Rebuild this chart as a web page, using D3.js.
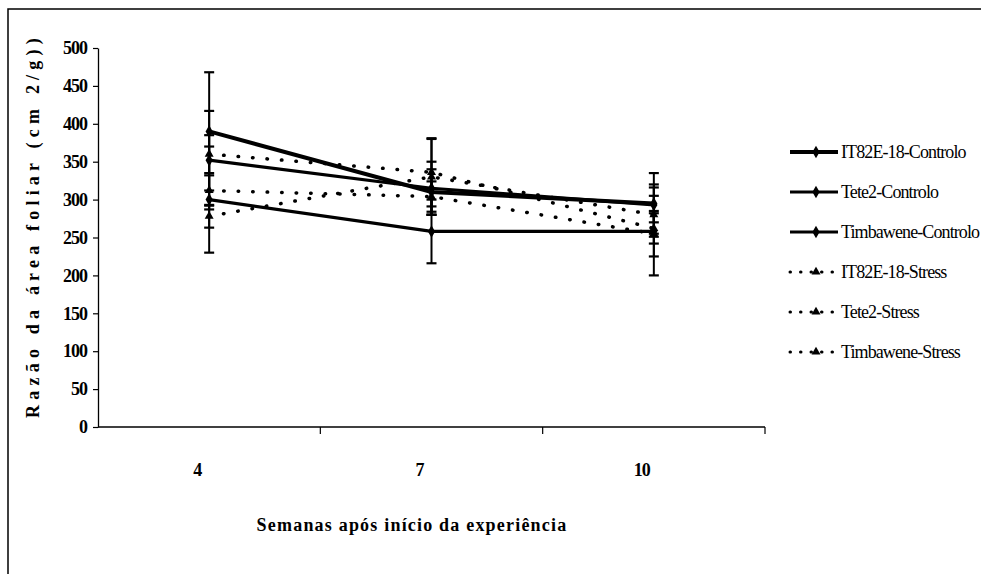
<!DOCTYPE html>
<html>
<head>
<meta charset="utf-8">
<script src="https://cdn.jsdelivr.net/npm/d3@7"></script>
<style>
  body { margin: 0; background: #fff; }
  svg { display: block; }
  text { font-family: "Liberation Serif", "Times New Roman", Times, "DejaVu Serif", serif; }
</style>
</head>
<body>
<svg id="chart" width="981" height="574"></svg>
<script>
const weeks = ['4', '7', '10'];
const seriesNames = ['IT82E-18-Controlo', 'Tete2-Controlo', 'Timbawene-Controlo',
                     'IT82E-18-Stress', 'Tete2-Stress', 'Timbawene-Stress'];
const it82eControlo = [390, 310, 295];
const tete2Controlo = [352, 315, 293];
const timbControlo = [300, 258, 258];
const it82eStress = [360, 336, 262];
const tete2Stress = [312, 304, 255];
const timbStress = [278, 330, 280];
const it82eControloErr = [78, 30, 25];
const tete2ControloErr = [65, 35, 42];
const timbControloErr = [70, 42, 58];
const it82eStressErr = [25, 45, 20];
const tete2StressErr = [20, 20, 30];
const timbStressErr = [15, 50, 25];
const yTicks = [0, 50, 100, 150, 200, 250, 300, 350, 400, 450, 500];

const series = [
  { name: seriesNames[0], values: it82eControlo, err: it82eControloErr, stress: false, width: 4 },
  { name: seriesNames[1], values: tete2Controlo, err: tete2ControloErr, stress: false, width: 3.2 },
  { name: seriesNames[2], values: timbControlo, err: timbControloErr, stress: false, width: 3.2 },
  { name: seriesNames[3], values: it82eStress, err: it82eStressErr, stress: true, width: 3.5 },
  { name: seriesNames[4], values: tete2Stress, err: tete2StressErr, stress: true, width: 3.5 },
  { name: seriesNames[5], values: timbStress, err: timbStressErr, stress: true, width: 3.5 }
];

const margin = { top: 48, left: 98, right: 216, bottom: 147 };
const width = 981, height = 574;

const svg = d3.select('#chart');

// outer frame
svg.append('path')
  .attr('d', `M8,${height + 2} L8,9 L${width + 2},9`)
  .attr('fill', 'none')
  .attr('stroke', '#000')
  .attr('stroke-width', 1.5);

const x = d3.scaleBand()
  .domain(weeks)
  .range([margin.left, width - margin.right]);

const y = d3.scaleLinear()
  .domain([0, 500])
  .range([height - margin.bottom, margin.top]);

// y axis
svg.append('g')
  .attr('transform', `translate(${margin.left}, 0)`)
  .call(d3.axisLeft(y).tickValues(yTicks).tickSize(5).tickSizeOuter(0))
  .call(g => g.select('.domain').attr('stroke-width', 1.3))
  .call(g => g.selectAll('.tick line').attr('stroke-width', 1.2))
  .selectAll('text')
  .attr('x', -11)
  .style('font-family', null)
  .style('font-size', '18px')
  .style('font-weight', 'bold')
  .style('letter-spacing', '-1px')
  .style('fill', '#000');

// x axis (ticks between categories)
const xAxis = svg.append('g')
  .attr('transform', `translate(0, ${y(0)})`);
xAxis.append('line')
  .attr('x1', margin.left).attr('x2', width - margin.right)
  .attr('stroke', '#000').attr('stroke-width', 1.3);
xAxis.selectAll('.sep')
  .data(weeks)
  .join('line')
  .attr('class', 'sep')
  .attr('x1', d => x(d) + x.bandwidth())
  .attr('x2', d => x(d) + x.bandwidth())
  .attr('y1', 0).attr('y2', 7)
  .attr('stroke', '#000').attr('stroke-width', 1.2);
xAxis.selectAll('text')
  .data(weeks)
  .join('text')
  .attr('x', d => x(d) + x.bandwidth() / 2 - 12)
  .attr('y', 49)
  .attr('text-anchor', 'middle')
  .style('font-size', '18px')
  .style('font-weight', 'bold')
  .style('letter-spacing', '-1px')
  .text(d => d);

// axis titles
svg.append('text')
  .attr('x', 412)
  .attr('y', 531)
  .attr('text-anchor', 'middle')
  .style('font-size', '18px')
  .style('font-weight', 'bold')
  .style('letter-spacing', '1.2px')
  .text('Semanas após  início da experiência');

svg.append('g')
  .attr('transform', `translate(39, ${(y(0) + y(500)) / 2 - 12}) rotate(-90)`)
  .append('text')
  .attr('text-anchor', 'middle')
  .style('font-size', '18px')
  .style('font-weight', 'bold')
  .style('letter-spacing', '5.2px')
  .text('Razão da área foliar (cm 2/g))');

const cx = d => x(d) + x.bandwidth() / 2;

// error bars
series.forEach(s => {
  const g = svg.append('g');
  weeks.forEach((w, i) => {
    const top = y(s.values[i] + s.err[i]);
    const bot = y(s.values[i] - s.err[i]);
    g.append('line')
      .attr('x1', cx(w)).attr('x2', cx(w))
      .attr('y1', top).attr('y2', bot)
      .attr('stroke', '#000').attr('stroke-width', 2);
    [top, bot].forEach(v => {
      g.append('line')
        .attr('x1', cx(w) - 5).attr('x2', cx(w) + 5)
        .attr('y1', v).attr('y2', v)
        .attr('stroke', '#000').attr('stroke-width', 2.2);
    });
  });
});

const line = d3.line()
  .x((d, i) => cx(weeks[i]))
  .y(d => y(d));

const diamond = d3.symbol().type(d3.symbolDiamond).size(45);
const triangle = d3.symbol().type(d3.symbolTriangle).size(35);

series.forEach(s => {
  svg.append('path')
    .datum(s.values)
    .attr('d', line)
    .attr('fill', 'none')
    .attr('stroke', '#000')
    .attr('stroke-width', s.width)
    .attr('stroke-linecap', s.stress ? 'round' : 'butt')
    .attr('stroke-dasharray', s.stress ? '0.5,14' : null);

  svg.append('g')
    .selectAll('path')
    .data(s.values)
    .join('path')
    .attr('transform', (d, i) => `translate(${cx(weeks[i])}, ${y(d)})`)
    .attr('d', s.stress ? triangle : diamond)
    .attr('fill', '#000');
});

// legend
const legend = svg.append('g')
  .attr('transform', 'translate(790, 152)');

const item = legend.selectAll('g')
  .data(series)
  .join('g')
  .attr('transform', (d, i) => `translate(0, ${i * 40})`);

item.append('line')
  .attr('x1', 0).attr('x2', 48)
  .attr('stroke', '#000')
  .attr('stroke-width', d => d.stress ? 3 : d.width)
  .attr('stroke-linecap', d => d.stress ? 'round' : 'butt')
  .attr('stroke-dasharray', d => d.stress ? '0.5,10' : null);

item.append('path')
  .attr('transform', 'translate(26, 0)')
  .attr('d', d => d.stress ? triangle() : diamond())
  .attr('fill', '#000');

item.append('text')
  .attr('x', 51)
  .attr('y', 6)
  .style('font-size', '18px')
  .style('letter-spacing', '-0.9px')
  .text(d => d.name);
</script>
</body>
</html>
